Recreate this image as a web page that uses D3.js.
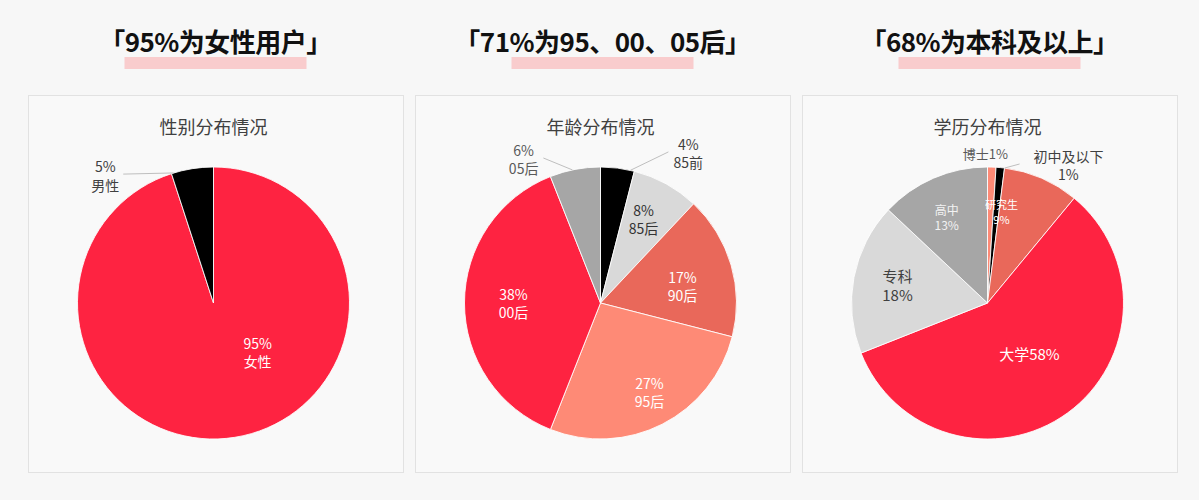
<!DOCTYPE html>
<html>
<head>
<meta charset="utf-8">
<script src="https://cdn.jsdelivr.net/npm/d3@7"></script>
<style>
  html, body { margin: 0; padding: 0; background: #f7f7f7; }
  svg { display: block; font-family: "Noto Sans CJK SC", "Noto Sans", sans-serif; }
</style>
</head>
<body>
<div id="chart"></div>
<script>
  // data
  var headlines = ["「95%为女性用户」", "「71%为95、00、05后」", "「68%为本科及以上」"];
  var chartTitles = ["性别分布情况", "年龄分布情况", "学历分布情况"];

  var genderNames = ["女性", "男性"];
  var genderValues = [95, 5];

  var ageNames = ["85前", "85后", "90后", "95后", "00后", "05后"];
  var ageValues = [4, 8, 17, 27, 38, 6];

  var eduNames = ["博士", "初中及以下", "研究生", "大学", "专科", "高中"];
  var eduValues = [1, 1, 9, 58, 18, 13];

  // colours
  var RED = "#fe2341", SALMON = "#e9685a", PEACH = "#fe8a76",
      LIGHT = "#d9d9d9", MID = "#a6a6a6", BLACK = "#000000";

  // label layout: angle (deg, clockwise from top), radius fraction, text form, colour, font size
  var charts = [
    {
      names: genderNames, values: genderValues, colors: [RED, BLACK],
      labels: [
        {a: 138, r: 0.485, form: "pn", fill: "#fff", size: 14},
        {a: 319.7, r: 1.23, form: "pn", fill: "#404040", size: 14}
      ],
      leaders: [{from: [343, 1.0], to: [325, 1.157]}]
    },
    {
      names: ageNames, values: ageValues, colors: [BLACK, LIGHT, SALMON, PEACH, RED, MID],
      labels: [
        {a: 30.3, r: 1.28, form: "pn", fill: "#404040", size: 14},
        {a: 27.1, r: 0.694, form: "pn", fill: "#333", size: 14},
        {a: 78.3, r: 0.615, form: "pn", fill: "#fff", size: 14},
        {a: 151.2, r: 0.747, form: "pn", fill: "#fff", size: 14},
        {a: 270, r: 0.64, form: "pn", fill: "#fff", size: 14},
        {a: 331.9, r: 1.2, form: "pn", fill: "#595959", size: 14}
      ],
      leaders: [{from: [12.7, 1.0], to: [24.2, 1.218]}, {from: [348.1, 1.0], to: [338.5, 1.146]}]
    },
    {
      names: eduNames, values: eduValues, colors: [PEACH, BLACK, SALMON, RED, LIGHT, MID],
      labels: [
        {a: 359.2, r: 1.1, form: "inline", fill: "#595959", size: 13},
        {a: 30.4, r: 1.176, form: "np", fill: "#404040", size: 14},
        {a: 8.7, r: 0.68, form: "np", fill: "#fff", size: 11},
        {a: 140.5, r: 0.485, form: "inline", fill: "#fff", size: 15},
        {a: 281.3, r: 0.675, form: "np", fill: "#404040", size: 15},
        {a: 334.6, r: 0.7, form: "np", fill: "#f2f2f2", size: 12}
      ],
      leaders: [{from: [7.2, 1.0], to: [13, 1.049]}]
    }
  ];

  var W = 1199, H = 500;
  var panelW = 375, panelH = 377, panelTop = 95, panelLefts = [28, 415, 802];
  var radius = 136;

  var svg = d3.select("#chart").append("svg")
    .attr("width", W)
    .attr("height", H);

  svg.append("rect")
    .attr("width", W).attr("height", H)
    .attr("fill", "#f7f7f7");

  var pie = d3.pie().sort(null).value(function (d) { return d; });
  var arc = d3.arc().innerRadius(0).outerRadius(radius);

  // point at given angle / radius fraction, via d3.arc centroid
  function polar(deg, frac) {
    var a = deg * Math.PI / 180;
    return d3.arc()
      .innerRadius(radius * frac).outerRadius(radius * frac)
      .startAngle(a).endAngle(a)
      .centroid();
  }

  charts.forEach(function (c, i) {
    var left = panelLefts[i];
    var cx = left + panelW / 2 - 2,
        cy = 303;

    // headline with pink highlight bar
    svg.append("rect")
      .attr("x", cx + 2 - 91)
      .attr("y", 57)
      .attr("width", 182)
      .attr("height", 12)
      .attr("fill", "#f9cccd");

    svg.append("text")
      .attr("x", cx + 2)
      .attr("y", 52)
      .attr("text-anchor", "middle")
      .attr("font-size", 26)
      .attr("font-weight", 700)
      .attr("fill", "#111")
      .attr("letter-spacing", -0.5)
      .text(headlines[i]);

    // panel
    svg.append("rect")
      .attr("x", left + 0.5)
      .attr("y", panelTop + 0.5)
      .attr("width", panelW)
      .attr("height", panelH)
      .attr("fill", "#f9f9f9")
      .attr("stroke", "#e2e2e2")
      .attr("stroke-width", 1);

    svg.append("text")
      .attr("x", cx)
      .attr("y", 134)
      .attr("text-anchor", "middle")
      .attr("font-size", 18)
      .attr("fill", "#404040")
      .text(chartTitles[i]);

    var g = svg.append("g")
      .attr("transform", "translate(" + cx + "," + cy + ")");

    var arcs = pie(c.values);

    g.selectAll("path.slice")
      .data(arcs)
      .enter().append("path")
        .attr("class", "slice")
        .attr("d", arc)
        .attr("fill", function (d, j) { return c.colors[j]; })
        .attr("stroke", "#ffffff")
        .attr("stroke-width", 1)
        .attr("stroke-opacity", 0.85);

    // leader lines
    g.selectAll("line.leader")
      .data(c.leaders)
      .enter().append("line")
        .attr("class", "leader")
        .attr("x1", function (d) { return polar(d.from[0], d.from[1])[0]; })
        .attr("y1", function (d) { return polar(d.from[0], d.from[1])[1]; })
        .attr("x2", function (d) { return polar(d.to[0], d.to[1])[0]; })
        .attr("y2", function (d) { return polar(d.to[0], d.to[1])[1]; })
        .attr("stroke", "#bfbfbf")
        .attr("stroke-width", 1);

    // labels
    arcs.forEach(function (d, j) {
      var lab = c.labels[j];
      var pct = d.data + "%", name = c.names[j];
      var lines = lab.form === "pn" ? [pct, name]
                : lab.form === "np" ? [name, pct]
                : [name + pct];
      var p = polar(lab.a, lab.r);
      var lh = lab.size * 1.3;

      var t = g.append("text")
        .attr("text-anchor", "middle")
        .attr("font-size", lab.size)
        .attr("fill", lab.fill);

      lines.forEach(function (s, k) {
        t.append("tspan")
          .attr("x", p[0])
          .attr("y", p[1] + (k - (lines.length - 1) / 2) * lh)
          .attr("dominant-baseline", "central")
          .text(s);
      });
    });
  });
</script>
</body>
</html>
